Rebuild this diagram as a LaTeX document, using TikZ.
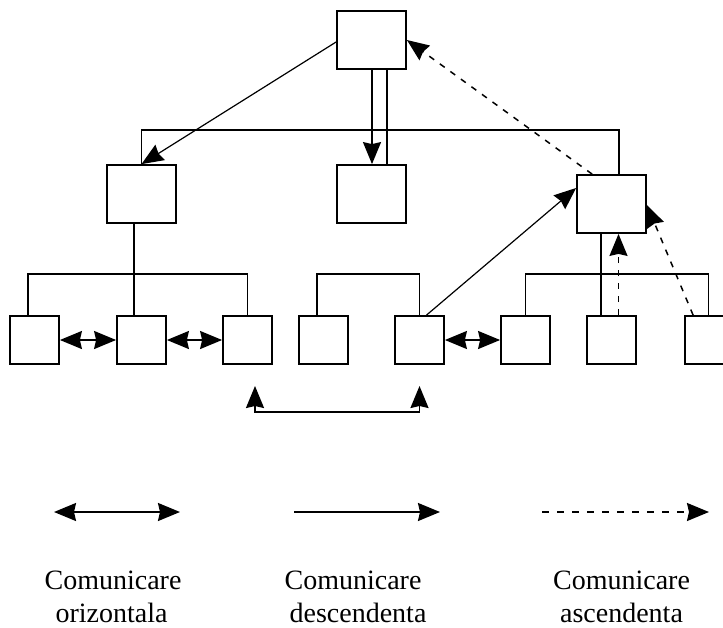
\documentclass[tikz,border=0pt]{standalone}
\usepackage{fontspec}
\setmainfont{Liberation Serif}
\usetikzlibrary{arrows.meta,calc}
\begin{document}
\begin{tikzpicture}[x=1pt,y=-1pt,
  unit/.style={draw,line width=1.8pt,inner sep=0pt,fill=white},
  boss/.style={unit,minimum width=69pt,minimum height=58pt},
  worker/.style={unit,minimum width=49pt,minimum height=48pt},
  link/.style={line width=1.8pt},
  diag/.style={line width=1.2pt},
  bighead/.tip={Stealth[length=22pt,width=18pt,inset=2pt]},
  updash/.style={line width=1.5pt,dash pattern=on 6pt off 7pt},
  legtxt/.style={font=\fontsize{28}{33}\selectfont,anchor=base,inner sep=0pt}
]
\useasboundingbox (0,0) rectangle (723,627);
\clip (0,0) rectangle (723,627);

% management levels
\node[boss] (top) at (371.5,40) {};
\node[boss] (ml) at (141.5,194) {};
\node[boss] (mc) at (371.5,194) {};
\node[boss] (mr) at (611.5,204) {};

% execution level
\foreach \n/\x in {b1/34.5,b2/141.5,b3/247.5,b4/323.5,b5/419.5,b6/525.5,b7/611.5,b8/709.5}
  \node[worker] (\n) at (\x,340) {};

% hierarchy lines
\draw[link] (ml.north) -- ++(0,-34) -| ($(mr.north)+(7.5,0)$);
\draw[link] ($(ml.south)+(-7.5,0)$) -- ($(b2.north)+(-7.5,0)$);
\draw[link] ($(b1.north)+(-6.5,0)$) |- ($(b3.north)+(0,-41)$) -- (b3.north);
\draw[link] ($(b4.north)+(-6.5,0)$) -- ++(0,-41) -| (b5.north);
\draw[link] (b6.north) -- ++(0,-41) -| ($(b8.north)+(-1,0)$);
\draw[link] ($(mr.south)+(-10.5,0)$) -- ($(b7.north)+(-10.5,0)$);
\draw[link] ($(top.south)+(15.5,0)$) -- ($(mc.north)+(15.5,0)$);

% downward communication
\draw[link,-bighead] ($(top.south)+(0.5,0)$) -- ($(mc.north)+(0.5,0)$);
\draw[diag,-bighead] ($(top.west)+(0,2)$) -- (ml.north);
\draw[diag,-bighead] ($(b5.north)+(7,0)$) -- ($(mr.west)+(0,-16)$);

% upward communication
\draw[updash,-bighead] ($(mr.north west)+(16,0)$) -- (top.east);
\draw[updash,-bighead] ($(b7.north)+(7,0)$) -- ($(mr.south)+(7,0)$);
\draw[updash,-bighead] ($(b8.north west)+(9,0)$) -- ($(mr.east)+(0,1)$);

% horizontal communication
\draw[link,bighead-bighead] (b1) -- (b2);
\draw[link,bighead-bighead] (b2) -- (b3);
\draw[link,bighead-bighead] (b5) -- (b6);

% bracket under the lower row
\coordinate (brL) at (255,412);
\coordinate (brR) at (419.5,412);
\draw[link,bighead-bighead] ($(brL)+(0,-26)$) -- (brL) -- (brR) -- ($(brR)+(0,-26)$);

% legend
\coordinate (h1) at (54,512);
\coordinate (h2) at (180,512);
\coordinate (d1) at (294,512);
\coordinate (d2) at (440,512);
\coordinate (a1) at (542,512);
\coordinate (a2) at (709,512);
\draw[link,bighead-bighead] (h1) -- (h2);
\draw[link,-bighead] (d1) -- (d2);
\draw[link,-bighead,dash pattern=on 7pt off 8pt] (a1) -- (a2);

\node[legtxt] (t1a) at (113,589) {Comunicare};
\node[legtxt] (t1b) at (111.5,622) {orizontala};
\node[legtxt] (t2a) at (353,589) {Comunicare};
\node[legtxt] (t2b) at (358,622) {descendenta};
\node[legtxt] (t3a) at (621.5,589) {Comunicare};
\node[legtxt] (t3b) at (621.5,622) {ascendenta};
\end{tikzpicture}
\end{document}
